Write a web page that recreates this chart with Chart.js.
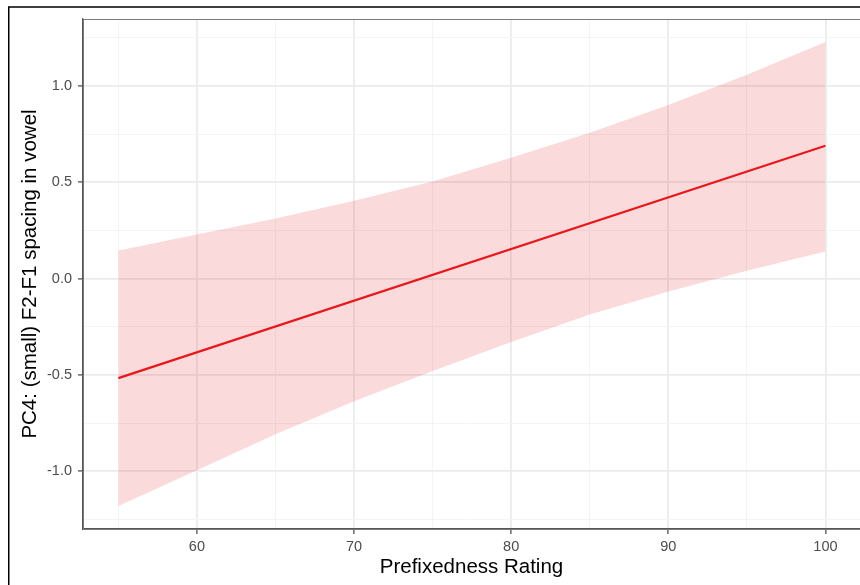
<!DOCTYPE html>
<html>
<head>
<meta charset="utf-8">
<script src="https://cdn.jsdelivr.net/npm/chart.js@4.4.1/dist/chart.umd.min.js"></script>
<style>
  body { margin: 0; background: #fff; }
  canvas { display: block; }
</style>
</head>
<body>
<canvas id="pc4-chart" width="860" height="585"></canvas>
<script>
// Data

let bandX = [55, 60, 65, 70, 75, 80, 85, 90, 95, 100];
let bandUpper = [0.145, 0.228, 0.311, 0.404, 0.503, 0.627, 0.756, 0.90, 1.057, 1.228];
let bandLower = [-1.18, -0.995, -0.808, -0.637, -0.48, -0.33, -0.187, -0.067, 0.041, 0.14];

let fitX = [55, 100];
let fitY = [-0.517, 0.689];

let xTicks = [55, 60, 65, 70, 75, 80, 85, 90, 95, 100];
let xMajor = [60, 70, 80, 90, 100];
let yTicks = [-1.25, -1.0, -0.75, -0.5, -0.25, 0, 0.25, 0.5, 0.75, 1.0, 1.25];
let yMajor = [-1.0, -0.5, 0, 0.5, 1.0];

let toPoints = (xs, ys) => xs.map((x, i) => ({ x: x, y: ys[i] }));

let ctx = document.getElementById('pc4-chart').getContext('2d');

let tickFont = { family: '"Liberation Sans", Arial, sans-serif', size: 14.5 };
let titleFont = { family: '"Liberation Sans", Arial, sans-serif', size: 20.5 };

// frame round the figure and border round the panel
let framePlugin = {
    id: 'frame',
    beforeDraw(chart) {
        let c = chart.ctx;
        c.save();
        c.strokeStyle = '#000';
        c.lineWidth = 1.5;
        c.beginPath();
        c.moveTo(860, 7);
        c.lineTo(8.75, 7);
        c.lineTo(8.75, 585);
        c.stroke();
        c.restore();
    },
    afterDraw(chart) {
        let a = chart.chartArea;
        let c = chart.ctx;
        c.save();
        c.strokeStyle = '#7a7a7a';
        c.lineWidth = 1;
        c.strokeRect(a.left + 0.5, a.top + 0.5, a.right - a.left + 2, a.bottom - a.top);
        c.restore();
    }
};

let pc4Data = {
    datasets: [{
        data: toPoints(bandX, bandUpper),
        borderWidth: 0,
        pointRadius: 0,
        backgroundColor: 'rgba(228, 26, 28, 0.16)',
        fill: '+1'
    }, {
        data: toPoints(bandX, bandLower),
        borderWidth: 0,
        pointRadius: 0,
        fill: false
    }, {
        data: toPoints(fitX, fitY),
        borderColor: '#e8181c',
        borderWidth: 2.2,
        pointRadius: 0,
        fill: false
    }]
};

let chartOptions = {
    responsive: false,
    animation: false,
    layout: {
        padding: { top: 19, right: 0, left: 0, bottom: 0 }
    },
    scales: {
        x: {
            type: 'linear',
            min: 52.75,
            max: 102.2,
            afterBuildTicks: scale => { scale.ticks = xTicks.map(v => ({ value: v })); },
            afterFit: scale => { scale.height = 56; },
            ticks: {
                autoSkip: false,
                maxRotation: 0,
                padding: 4,
                color: '#4d4d4d',
                font: tickFont,
                callback: v => xMajor.includes(v) ? String(v) : ''
            },
            grid: {
                color: c => xMajor.includes(c.tick.value) ? '#ebebeb' : '#f4f4f4',
                lineWidth: c => xMajor.includes(c.tick.value) ? 1.8 : 1,
                tickLength: 5,
                tickColor: c => xMajor.includes(c.tick.value) ? '#444' : 'rgba(0,0,0,0)',
                tickWidth: 1.2
            },
            border: { color: '#555', width: 1.2 },
            title: {
                display: true,
                text: 'Prefixedness Rating',
                color: '#000',
                font: titleFont,
                padding: { top: 0, bottom: 5 }
            }
        },
        y: {
            min: -1.30,
            max: 1.347,
            afterBuildTicks: scale => { scale.ticks = yTicks.map(v => ({ value: v })); },
            afterFit: scale => { scale.width = 83; },
            ticks: {
                autoSkip: false,
                padding: 6,
                color: '#4d4d4d',
                font: tickFont,
                callback: v => yMajor.includes(v) ? v.toFixed(1) : ''
            },
            grid: {
                color: c => yMajor.includes(c.tick.value) ? '#ebebeb' : '#f4f4f4',
                lineWidth: c => yMajor.includes(c.tick.value) ? 1.8 : 1,
                tickLength: 5,
                tickColor: c => yMajor.includes(c.tick.value) ? '#444' : 'rgba(0,0,0,0)',
                tickWidth: 1.2
            },
            border: { color: '#555', width: 1.2 },
            title: {
                display: true,
                text: 'PC4: (small) F2-F1 spacing in vowel',
                color: '#000',
                font: titleFont,
                padding: { top: 18, bottom: 0 }
            }
        }
    },
    plugins: {
        legend: { display: false },
        tooltip: { enabled: false }
    }
};

let pc4Chart = new Chart(ctx, {
    type: 'line',
    data: pc4Data,
    options: chartOptions,
    plugins: [framePlugin]
});
</script>
</body>
</html>
